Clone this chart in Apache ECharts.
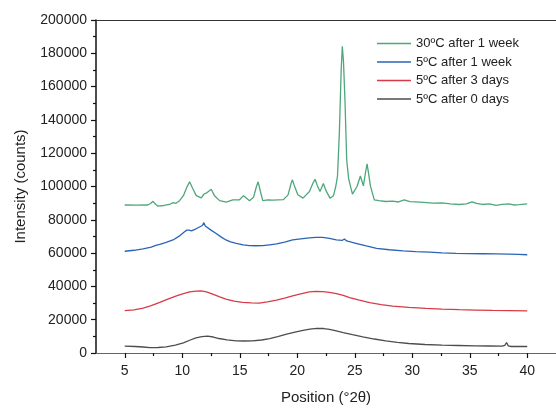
<!DOCTYPE html>
<html>
<head>
<meta charset="utf-8">
<script src="https://cdn.jsdelivr.net/npm/echarts@6.0.0/dist/echarts.min.js"></script>
<style>
  html, body { margin: 0; padding: 0; background: #fff; }
  #chart { width: 556px; height: 410px; }
</style>
</head>
<body>
<div id="chart"></div>
<script>
// XRD patterns: [2θ (degrees), intensity (counts)]
const week1At30C = [
  [5, 88900], [6, 88800], [7, 88900], [7.25, 89800], [7.46, 91100], [7.7, 89200], [7.9, 88200],
  [8.4, 88600], [8.9, 89200], [9.2, 90300], [9.45, 89900], [9.77, 91500], [10.1, 94500],
  [10.4, 99500], [10.64, 102800], [10.9, 99000], [11.22, 94500], [11.65, 93200], [11.9, 95500],
  [12.08, 96000], [12.2, 95200], [12.52, 98400], [12.8, 94500], [13.25, 91500], [13.83, 90600],
  [14.4, 92000], [14.98, 92000], [15.33, 94500], [15.85, 91500], [16.2, 93500], [16.45, 100000],
  [16.6, 102800], [16.8, 97000], [17.0, 91500], [17.45, 92000], [17.9, 91800], [18.8, 92100],
  [19.2, 95000], [19.45, 101500], [19.58, 104000], [19.75, 100500], [20.05, 95000], [20.5, 93000],
  [21.06, 97000], [21.4, 102500], [21.55, 104300], [21.75, 100500], [21.98, 97000], [22.27, 101800],
  [22.5, 97500], [22.85, 93000], [23.15, 94500], [23.35, 100000], [23.5, 106300], [23.66, 131900],
  [23.82, 170000], [23.92, 184200], [24.02, 175000], [24.15, 151700], [24.3, 116100], [24.47, 104600],
  [24.8, 95400], [25.2, 100000], [25.49, 106300], [25.75, 100400], [25.95, 109000], [26.07, 113600],
  [26.2, 108000], [26.36, 100400], [26.7, 92000], [27.1, 91500], [27.7, 91000], [28.3, 91200],
  [28.8, 90700], [29.3, 91900], [29.8, 90900], [30.3, 90800], [31.0, 90500], [31.8, 90000],
  [32.6, 90200], [33.3, 89600], [34.1, 89200], [34.7, 89600], [35.2, 90800], [35.6, 89800],
  [36.1, 89200], [36.7, 89600], [37.3, 88700], [37.8, 89300], [38.4, 89600], [38.8, 88900],
  [39.3, 89100], [40, 89600]
];

const week1At5C = [
  [5, 61100], [5.8, 61700], [6.6, 62500], [7.3, 63600], [7.7, 64600], [7.85, 65400], [8.05, 65300],
  [8.6, 66500], [9.2, 67900], [9.8, 70500], [10.2, 72800], [10.4, 73800], [10.5, 75000],
  [10.6, 73800], [10.8, 73400], [11.2, 74600], [11.5, 75700], [11.75, 76600], [11.88, 78300],
  [12.0, 76300], [12.1, 75300], [12.5, 73800], [12.95, 71800], [13.4, 69600], [13.8, 67900],
  [14.2, 66700], [14.7, 65900], [15.3, 65000], [15.85, 64500], [16.4, 64400], [17.0, 64500],
  [17.6, 65000], [18.2, 65500], [18.9, 66600], [19.6, 67900], [20.3, 68600], [21.05, 69200],
  [21.6, 69500], [22.2, 69400], [22.8, 68800], [23.4, 67900], [23.9, 67600], [24.1, 68500],
  [24.3, 67300], [25.1, 65900], [26.0, 64300], [26.9, 62900], [28.0, 62000], [29.2, 61300],
  [30.3, 60900], [31.5, 60600], [32.6, 60100], [33.8, 59800], [35.0, 59700], [36.1, 59600],
  [37.3, 59500], [38.4, 59400], [39.2, 59200], [40, 59000]
];

const days3At5C = [
  [5, 25400], [5.8, 25900], [6.6, 27000], [7.3, 28400], [8.05, 30400], [8.8, 32500], [9.5, 34300],
  [10.1, 35700], [10.65, 36700], [11.2, 37200], [11.65, 37300], [12.1, 36700], [12.65, 35300],
  [13.2, 33800], [13.8, 32400], [14.5, 31200], [15.25, 30400], [16.0, 30100], [16.7, 30000],
  [17.4, 30700], [18.2, 31800], [18.9, 33000], [19.6, 34300], [20.3, 35500], [21.05, 36700],
  [21.6, 37000], [22.2, 36900], [22.8, 36400], [23.4, 35700], [24.0, 34600], [24.55, 33300],
  [25.4, 31700], [26.3, 30200], [27.3, 29100], [28.3, 28200], [29.7, 27400], [31.2, 26800],
  [32.6, 26300], [34.1, 26000], [35.5, 25800], [37.0, 25600], [38.5, 25500], [40, 25300]
];

const days0At5C = [
  [5, 4100], [5.9, 3900], [6.6, 3600], [7.2, 3200], [7.9, 3300], [8.6, 3700], [9.4, 4700],
  [10.1, 6100], [10.7, 7800], [11.2, 9100], [11.7, 9800], [12.2, 10100], [12.7, 9600],
  [13.2, 8700], [13.9, 7900], [14.7, 7300], [15.4, 7200], [16.1, 7300], [16.9, 7800],
  [17.6, 8700], [18.3, 9900], [19.0, 11200], [19.8, 12500], [20.5, 13600], [21.1, 14300],
  [21.7, 14800], [22.3, 14700], [22.8, 14200], [23.4, 13300], [24.0, 12200], [24.8, 11000],
  [25.7, 9700], [26.7, 8400], [27.7, 7300], [28.7, 6400], [29.7, 5700], [31.1, 5100],
  [32.6, 4700], [34.0, 4500], [35.5, 4300], [36.7, 4200], [37.8, 4100], [38.05, 4600],
  [38.2, 6300], [38.35, 4300], [38.6, 3900], [39.3, 3900], [40, 3900]
];

const seriesNames = ['30ºC after 1 week', '5ºC after 1 week', '5ºC after 3 days', '5ºC after 0 days'];
const seriesColors = ['#4ea77a', '#2c64b5', '#d83b47', '#4d4d4d'];
const seriesData = [week1At30C, week1At5C, days3At5C, days0At5C];

const xMajorTicks = [5, 10, 15, 20, 25, 30, 35, 40];
const xMinorTicks = [7.5, 12.5, 17.5, 22.5, 27.5, 32.5, 37.5];

const fontFamily = '"Liberation Sans", Arial, sans-serif';
const X_MIN = 2.5, X_MAX = 42.5;

const chart = echarts.init(document.getElementById('chart'), null, { renderer: 'canvas' });

chart.setOption({
  animation: false,
  backgroundColor: '#ffffff',
  grid: { left: 96, top: 20, width: 490, height: 338, containLabel: false },
  legend: {
    data: seriesNames,
    orient: 'vertical',
    left: 372,
    top: 32,
    itemWidth: 34,
    itemHeight: 1.6,
    itemGap: 5.5,
    icon: 'rect',
    textStyle: { fontFamily: fontFamily, fontSize: 13, color: '#222' },
    inactiveColor: '#ccc'
  },
  xAxis: [
    {
      type: 'value', min: X_MIN, max: X_MAX, position: 'bottom',
      name: 'Position (°2θ)', nameLocation: 'middle', nameGap: 37,
      nameTextStyle: { fontFamily: fontFamily, fontSize: 15, color: '#222' },
      axisLine: { show: true, onZero: false, lineStyle: { color: '#666', width: 1.2 } },
      axisTick: { show: true, customValues: xMajorTicks, length: 5, lineStyle: { color: '#111', width: 1.2 } },
      axisLabel: { customValues: xMajorTicks, margin: 11, fontFamily: fontFamily, fontSize: 14, color: '#222' },
      splitLine: { show: false }
    },
    {
      type: 'value', min: X_MIN, max: X_MAX, position: 'bottom',
      axisLine: { show: false, onZero: false },
      axisTick: { show: true, customValues: xMinorTicks, length: 3, lineStyle: { color: '#111', width: 1.2 } },
      axisLabel: { show: false },
      splitLine: { show: false }
    },
    {
      type: 'value', min: X_MIN, max: X_MAX, position: 'top',
      axisLine: { show: true, onZero: false, lineStyle: { color: '#333', width: 1.2 } },
      axisTick: { show: false },
      axisLabel: { show: false },
      splitLine: { show: false }
    }
  ],
  yAxis: {
    type: 'value', min: 0, max: 200000, interval: 20000,
    name: 'Intensity (counts)', nameLocation: 'middle', nameGap: 68,
    nameTextStyle: { fontFamily: fontFamily, fontSize: 15, color: '#222' },
    axisLine: { show: true, onZero: false, lineStyle: { color: '#111', width: 1.5 } },
    axisTick: { show: true, length: 5, lineStyle: { color: '#111', width: 1.2 } },
    minorTick: { show: true, splitNumber: 2, length: 3, lineStyle: { color: '#111', width: 1.2 } },
    axisLabel: {
      margin: 9, fontFamily: fontFamily, fontSize: 14, color: '#222',
      formatter: (v) => String(v)
    },
    splitLine: { show: false }
  },
  series: seriesNames.map((name, i) => ({
    name: name,
    type: 'line',
    xAxisIndex: 0,
    data: seriesData[i],
    showSymbol: false,
    symbol: 'none',
    color: seriesColors[i],
    lineStyle: { color: seriesColors[i], width: 1.3 },
    z: 10 - i
  }))
});
</script>
</body>
</html>
